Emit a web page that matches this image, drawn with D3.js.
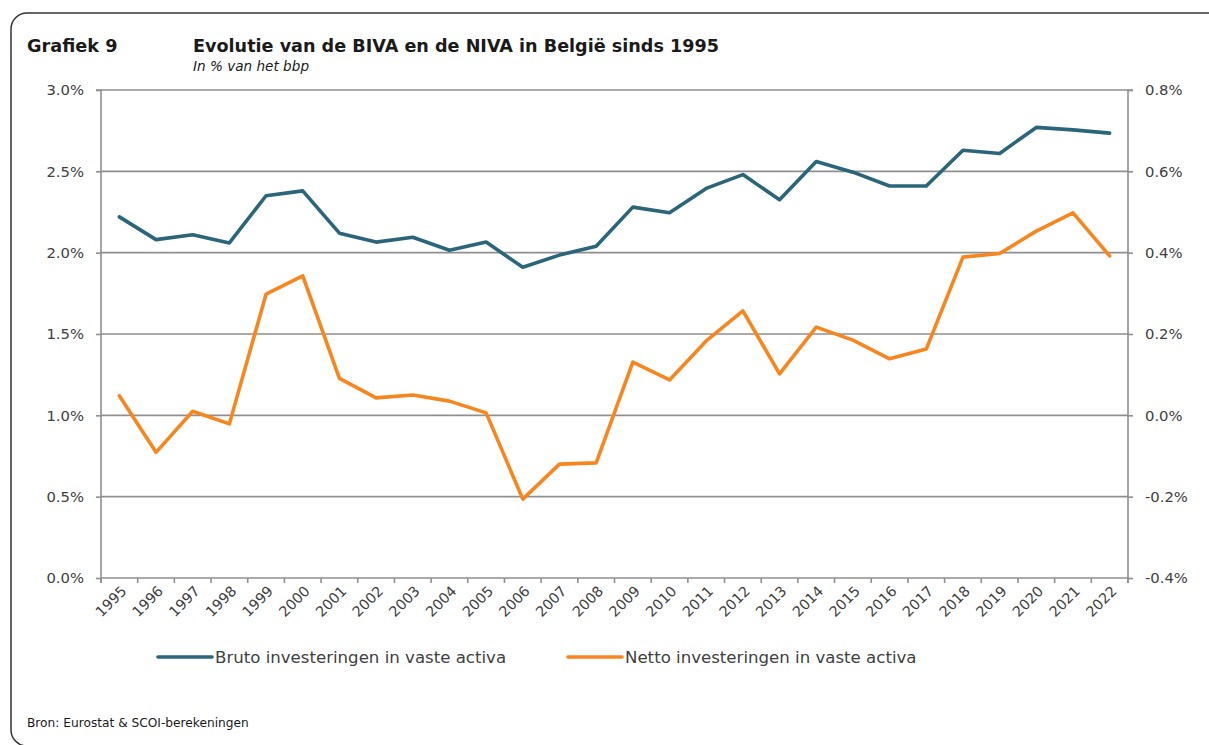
<!DOCTYPE html>
<html><head><meta charset="utf-8">
<script src="https://cdn.jsdelivr.net/npm/d3@7"></script>
<style>
html,body{margin:0;padding:0;background:#fff;}
svg{display:block;}
text{font-family:"DejaVu Sans",sans-serif;}
</style></head>
<body>
<svg id="chart" width="1209" height="745"></svg>
<script>
const years = ["1995","1996","1997","1998","1999","2000","2001","2002","2003","2004","2005","2006","2007","2008","2009","2010","2011","2012","2013","2014","2015","2016","2017","2018","2019","2020","2021","2022"];
const bruto = [2.22,2.08,2.11,2.06,2.35,2.38,2.12,2.065,2.095,2.015,2.065,1.91,1.985,2.04,2.28,2.245,2.395,2.48,2.325,2.56,2.495,2.41,2.41,2.63,2.61,2.77,2.755,2.735];
const netto = [0.048,-0.091,0.010,-0.021,0.298,0.343,0.091,0.043,0.050,0.035,0.006,-0.206,-0.120,-0.117,0.131,0.087,0.183,0.257,0.102,0.217,0.185,0.139,0.163,0.389,0.398,0.453,0.498,0.392];
const leftTicks = [0,0.5,1.0,1.5,2.0,2.5,3.0];
const rightTicks = [-0.4,-0.2,0.0,0.2,0.4,0.6,0.8];
const seriesNames = ["Bruto investeringen in vaste activa","Netto investeringen in vaste activa"];
const colors = ["#2b657a","#f7861f"];

const svg = d3.select("#chart");
const L = 101, R = 1128, T = 90, B = 578;
const grey = "#8f8f8f", txt = "#404040";

// frame
svg.append("rect").attr("x",11).attr("y",13).attr("width",1212).attr("height",733)
  .attr("rx",16).attr("ry",16).attr("fill","none").attr("stroke","#333").attr("stroke-width",1.5);

// titles
svg.append("text").attr("x",27).attr("y",52).attr("font-size",17.7).attr("font-weight","bold").attr("fill","#1a1a1a").text("Grafiek 9");
svg.append("text").attr("x",193).attr("y",52).attr("font-size",17.6).attr("font-weight","bold").attr("fill","#1a1a1a").text("Evolutie van de BIVA en de NIVA in België sinds 1995");
svg.append("text").attr("x",193).attr("y",71).attr("font-size",13.6).attr("font-style","italic").attr("fill","#1a1a1a").text("In % van het bbp");

const x = d3.scaleBand().domain(years).range([L,R]).padding(0);
const yL = d3.scaleLinear().domain([0,3]).range([B,T]);
const yR = d3.scaleLinear().domain([-0.4,0.8]).range([B,T]);
const cx = d => x(d) + x.bandwidth()/2;

// gridlines
svg.append("g").selectAll("line").data(leftTicks).join("line")
  .attr("x1",L).attr("x2",R).attr("y1",d=>yL(d)).attr("y2",d=>yL(d))
  .attr("stroke",grey).attr("stroke-width",1.6);

// left axis
const gl = svg.append("g").attr("transform",`translate(${L},0)`)
  .call(d3.axisLeft(yL).tickValues(leftTicks).tickSize(5).tickPadding(12).tickFormat(d=>d.toFixed(1)+"%"));
gl.select(".domain").attr("stroke",grey).attr("stroke-width",1.6).attr("d",`M-5,${T}H0V${B+5}`);
gl.selectAll(".tick line").attr("stroke",grey).attr("stroke-width",1.6);
gl.selectAll(".tick text").attr("fill",txt).attr("font-size",14.8).attr("font-family","DejaVu Sans");

// right axis
const gr = svg.append("g").attr("transform",`translate(${R},0)`)
  .call(d3.axisRight(yR).tickValues(rightTicks).tickSize(5).tickPadding(12).tickFormat(d=>d.toFixed(1)+"%"));
gr.select(".domain").attr("stroke",grey).attr("stroke-width",1.6).attr("d",`M5,${T}H0V${B+5}`);
gr.selectAll(".tick line").attr("stroke",grey).attr("stroke-width",1.6);
gr.selectAll(".tick text").attr("fill",txt).attr("font-size",14.8).attr("font-family","DejaVu Sans");

// bottom axis: ticks at category boundaries
const edges = years.map(d=>x(d)).concat([R]);
svg.append("g").selectAll("line").data(edges).join("line")
  .attr("x1",d=>d).attr("x2",d=>d).attr("y1",B).attr("y2",B+5)
  .attr("stroke",grey).attr("stroke-width",1.6);
const gb = svg.append("g").attr("transform",`translate(0,${B})`)
  .call(d3.axisBottom(x).tickSize(0).tickPadding(0));
gb.select(".domain").remove();
gb.selectAll(".tick text").attr("fill",txt).attr("font-size",14.3).attr("font-family","DejaVu Sans")
  .attr("text-anchor","end").attr("dy",0)
  .attr("transform","translate(8,14) rotate(-45)");

// lines
const lineL = d3.line().x((d,i)=>cx(years[i])).y(d=>yL(d));
const lineR = d3.line().x((d,i)=>cx(years[i])).y(d=>yR(d));
svg.append("path").datum(netto).attr("d",lineR).attr("fill","none").attr("stroke",colors[1])
  .attr("stroke-width",3.6).attr("stroke-linejoin","round").attr("stroke-linecap","round");
svg.append("path").datum(bruto).attr("d",lineL).attr("fill","none").attr("stroke",colors[0])
  .attr("stroke-width",3.6).attr("stroke-linejoin","round").attr("stroke-linecap","round");

// legend
const legX = [158,568];
seriesNames.forEach((n,i)=>{
  const g = svg.append("g");
  g.append("line").attr("x1",legX[i]).attr("x2",legX[i]+54).attr("y1",657).attr("y2",657)
    .attr("stroke",colors[i]).attr("stroke-width",3.6).attr("stroke-linecap","round");
  g.append("text").attr("x",legX[i]+57).attr("y",663).attr("font-size",16.6).attr("fill",txt).text(n);
});

// source
svg.append("text").attr("x",27).attr("y",727).attr("font-size",12.2).attr("fill","#1a1a1a").text("Bron: Eurostat & SCOI-berekeningen");
</script>
</body></html>
